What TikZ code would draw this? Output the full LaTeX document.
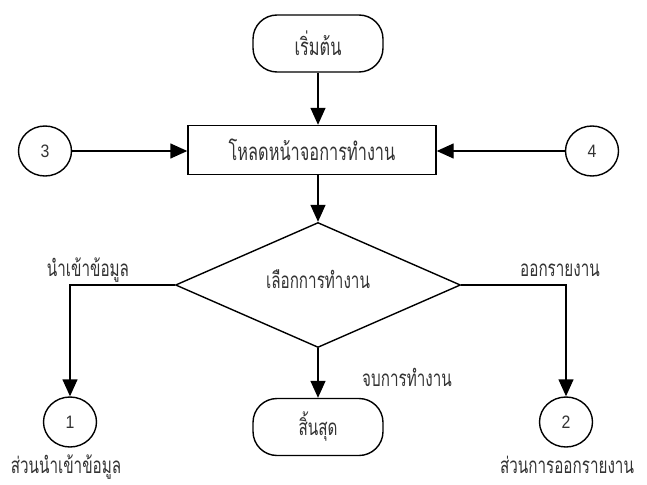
\documentclass[tikz,border=0pt]{standalone}
\usepackage{fontspec}
\usetikzlibrary{arrows.meta,shapes.geometric,calc}
\newfontfamily\thaifont[Script=Thai,FakeStretch=0.68]{Loma}
\newfontfamily\digitfont[FakeStretch=0.88]{Liberation Sans}
\begin{document}
\begin{tikzpicture}[x=1pt,y=-1pt,
  every node/.style={text=black!80},
  stroke/.style={line width=1.4pt,draw=black},
  flow/.style={stroke,-{Triangle[length=17pt,width=15pt]}},
  largetext/.style={font=\thaifont\fontsize{24}{28}\selectfont},
  normaltext/.style={font=\thaifont\fontsize{22.4}{26}\selectfont},
  terminal/.style={stroke,rounded corners=24pt,minimum width=130pt,minimum height=57pt,
    inner sep=0pt,normaltext},
  process/.style={stroke,rectangle,minimum width=248pt,minimum height=49pt,
    inner sep=0pt,largetext},
  decision/.style={stroke,diamond,minimum width=285pt,minimum height=125pt,
    inner sep=0pt,normaltext},
  connector/.style={stroke,ellipse,minimum width=53pt,minimum height=50pt,
    inner sep=0pt,font=\digitfont\fontsize{18}{21}\selectfont},
  branchlabel/.style={inner sep=0pt,normaltext},
  partlabel/.style={inner sep=0pt,normaltext,text depth=3pt}
]
\useasboundingbox[fill=white] (0,0) rectangle (647,484);

% main flow
\node[terminal,largetext] (start) at (318,43.5) {เริ่มต้น};
\node[process] (load) at (312,150) {โหลดหน้าจอการทำงาน};
\node[decision] (choose) at (318,285) {};
\node[normaltext,inner sep=0pt] (choosetext) at (318,279) {เลือกการทำงาน};
\node[terminal] (finish) at (318,427) {สิ้นสุด};

% off-page connectors
\node[connector] (c3) at (45,151) {3};
\node[connector] (c4) at (592,151) {4};
\node[connector] (c1) at (70,422) {1};
\node[connector] (c2) at (566,422) {2};

% texts on branches and under connectors
\node[branchlabel] (limport) at (88,270) {นำเข้าข้อมูล};
\node[branchlabel] (lreport) at (560,270) {ออกรายงาน};
\node[branchlabel] (lfinish) at (407,377) {จบการทำงาน};
\node[partlabel] (pimport) at (66,466) {ส่วนนำเข้าข้อมูล};
\node[partlabel] (preport) at (567,466) {ส่วนการออกรายงาน};

% connectors
\draw[flow] (start.south) -- (start.south |- load.north);
\draw[flow] (c3.east) -- (c3.east -| load.west);
\draw[flow] (c4.west) -- (c4.west -| load.east);
\draw[flow] (start.south |- load.south) -- (choose.north);
\draw[flow] (choose.west) -| (c1.north);
\draw[flow] (choose.east) -| (c2.north);
\draw[flow] (choose.south) -- (finish.north);
\end{tikzpicture}
\end{document}
